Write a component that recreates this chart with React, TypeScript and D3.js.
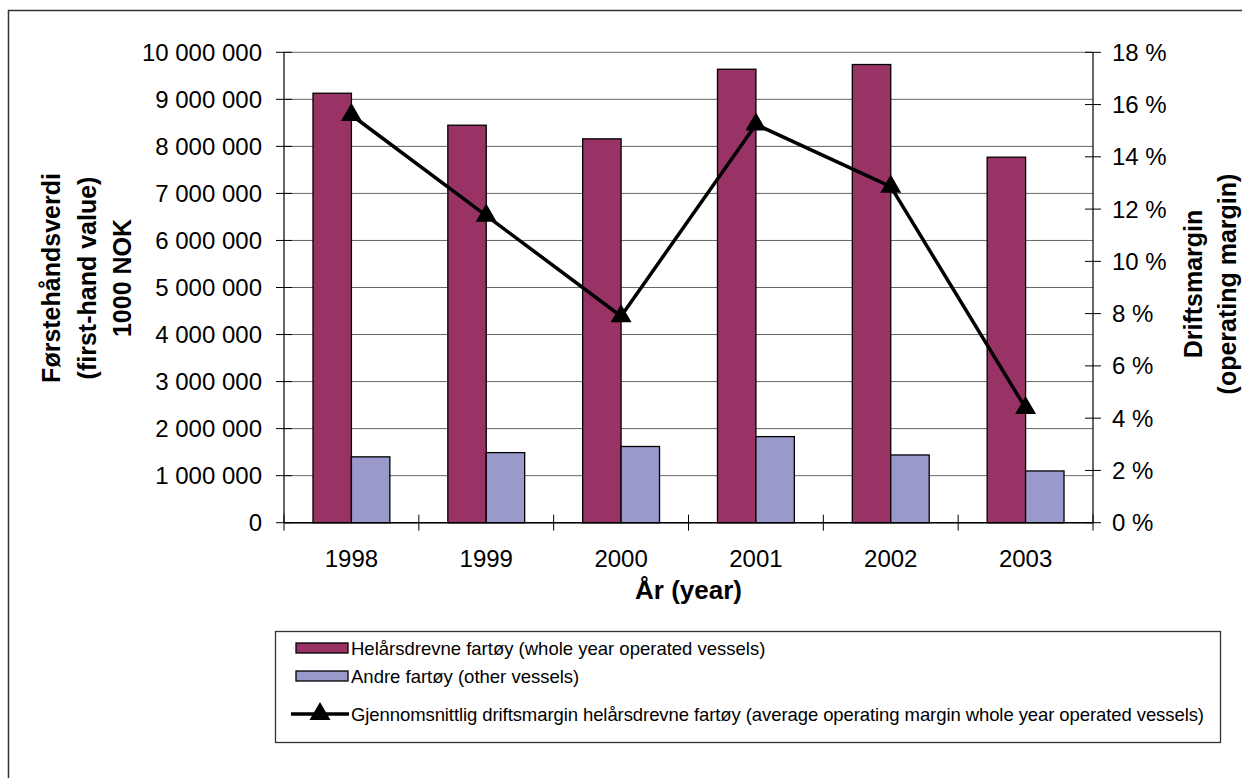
import * as d3 from "d3";

const years = ["1998", "1999", "2000", "2001", "2002", "2003"];
const wholeYear = [9130000, 8450000, 8160000, 9640000, 9740000, 7770000];
const others = [1400000, 1490000, 1620000, 1830000, 1440000, 1100000];
const margin = [15.6, 11.75, 7.9, 15.24, 12.86, 4.39];
const leftTicks = [0, 1000000, 2000000, 3000000, 4000000, 5000000, 6000000, 7000000, 8000000, 9000000, 10000000];
const rightTicks = [0, 2, 4, 6, 8, 10, 12, 14, 16, 18];
const seriesNames = [
  "Helårsdrevne fartøy (whole year operated vessels)",
  "Andre fartøy (other vessels)",
  "Gjennomsnittlig driftsmargin helårsdrevne fartøy (average operating margin whole year operated vessels)",
];

const maroon = "#993366";
const lavender = "#9999cc";
const font = "'Liberation Sans', Arial, sans-serif";

export default function App() {
  const width = 1242,
    height = 778;
  const left = 284,
    right = 1093,
    top = 52.3,
    bottom = 522.7,
    tick = 8;

  const x = d3.scaleBand().domain(years).range([left, right]).paddingInner(0.43).paddingOuter(0.215);
  const sub = d3.scaleBand().domain(["a", "b"]).range([0, x.bandwidth()]);
  const yL = d3.scaleLinear().domain([0, 10000000]).range([bottom, top]);
  const yR = d3.scaleLinear().domain([0, 18]).range([bottom, top]);
  const fmt = (v) => d3.format(",")(v).replace(/,/g, " ");
  const step = x.step();
  const cx = (i) => x(years[i]) + x.bandwidth() / 2;

  const line = d3
    .line()
    .x((d, i) => cx(i))
    .y((d) => yR(d));

  const tri = d3.symbol().type(d3.symbolTriangle).size(190);

  return (
    <svg
      width={width}
      height={height}
      style={{ position: "absolute", left: 0, top: 0, fontFamily: font }}
    >
      <rect x={8.5} y={10.5} width={1300} height={900} fill="white" stroke="#333" strokeWidth={1.5} />

      {/* gridlines */}
      {leftTicks.map((t) => (
        <line key={t} x1={left} x2={right} y1={yL(t)} y2={yL(t)} stroke="#666" strokeWidth={1} />
      ))}

      {/* bars */}
      {years.map((yr, i) => (
        <g key={yr}>
          <rect
            x={x(yr) + sub("a")}
            y={yL(wholeYear[i])}
            width={sub.bandwidth()}
            height={bottom - yL(wholeYear[i])}
            fill={maroon}
            stroke="black"
            strokeWidth={1.3}
          />
          <rect
            x={x(yr) + sub("b")}
            y={yL(others[i])}
            width={sub.bandwidth()}
            height={bottom - yL(others[i])}
            fill={lavender}
            stroke="black"
            strokeWidth={1.3}
          />
        </g>
      ))}

      {/* axes */}
      <line x1={left} x2={left} y1={top} y2={bottom} stroke="black" strokeWidth={1.2} />
      <line x1={right} x2={right} y1={top} y2={bottom} stroke="black" strokeWidth={1.2} />
      <line x1={left} x2={right} y1={bottom} y2={bottom} stroke="black" strokeWidth={1.5} />
      {leftTicks.map((t) => (
        <g key={t}>
          <line x1={left - tick} x2={left + tick} y1={yL(t)} y2={yL(t)} stroke="black" />
          <text x={left - 22} y={yL(t)} textAnchor="end" dominantBaseline="central" fontSize={24}>
            {fmt(t)}
          </text>
        </g>
      ))}
      {rightTicks.map((t) => (
        <g key={t}>
          <line x1={right - tick} x2={right + tick} y1={yR(t)} y2={yR(t)} stroke="black" />
          <text x={right + 19} y={yR(t)} textAnchor="start" dominantBaseline="central" fontSize={24}>
            {t} %
          </text>
        </g>
      ))}
      {d3.range(years.length + 1).map((i) => (
        <line key={i} x1={left + i * step} x2={left + i * step} y1={bottom - tick} y2={bottom + tick} stroke="black" />
      ))}
      {years.map((yr, i) => (
        <text key={yr} x={cx(i)} y={558} textAnchor="middle" dominantBaseline="central" fontSize={24}>
          {yr}
        </text>
      ))}

      {/* axis titles */}
      <text x={(left + right) / 2} y={590} textAnchor="middle" dominantBaseline="central" fontSize={26} fontWeight="bold">
        År (year)
      </text>
      <g transform="translate(0 278) rotate(-90)" fontSize={25} fontWeight="bold" textAnchor="middle" dominantBaseline="central">
        <text x={0} y={51}>Førstehåndsverdi</text>
        <text x={0} y={87}>(first-hand value)</text>
        <text x={0} y={122}>1000 NOK</text>
      </g>
      <g transform="translate(0 284) rotate(-90)" fontSize={25} fontWeight="bold" textAnchor="middle" dominantBaseline="central">
        <text x={0} y={1193}>Driftsmargin</text>
        <text x={0} y={1227}>(operating margin)</text>
      </g>

      {/* margin line */}
      <path d={line(margin)} fill="none" stroke="black" strokeWidth={3.5} strokeLinejoin="round" />
      {margin.map((m, i) => (
        <path key={i} d={tri()} transform={`translate(${cx(i)} ${yR(m)})`} fill="black" />
      ))}

      {/* legend */}
      <rect x={275.5} y={631.5} width={945} height={111} fill="white" stroke="#333" strokeWidth={1.3} />
      <rect x={296} y={643} width={52} height={10} fill={maroon} stroke="black" strokeWidth={1.3} />
      <text x={351} y={648} dominantBaseline="central" fontSize={18.5}>{seriesNames[0]}</text>
      <rect x={296} y={671} width={52} height={10} fill={lavender} stroke="black" strokeWidth={1.3} />
      <text x={351} y={676} dominantBaseline="central" fontSize={18.5}>{seriesNames[1]}</text>
      <line x1={291} x2={349} y1={714} y2={714} stroke="black" strokeWidth={3.5} />
      <path d={tri()} transform="translate(320 714)" fill="black" />
      <text x={351} y={714} dominantBaseline="central" fontSize={18.5} textLength={853} lengthAdjust="spacing">
        {seriesNames[2]}
      </text>
    </svg>
  );
}
